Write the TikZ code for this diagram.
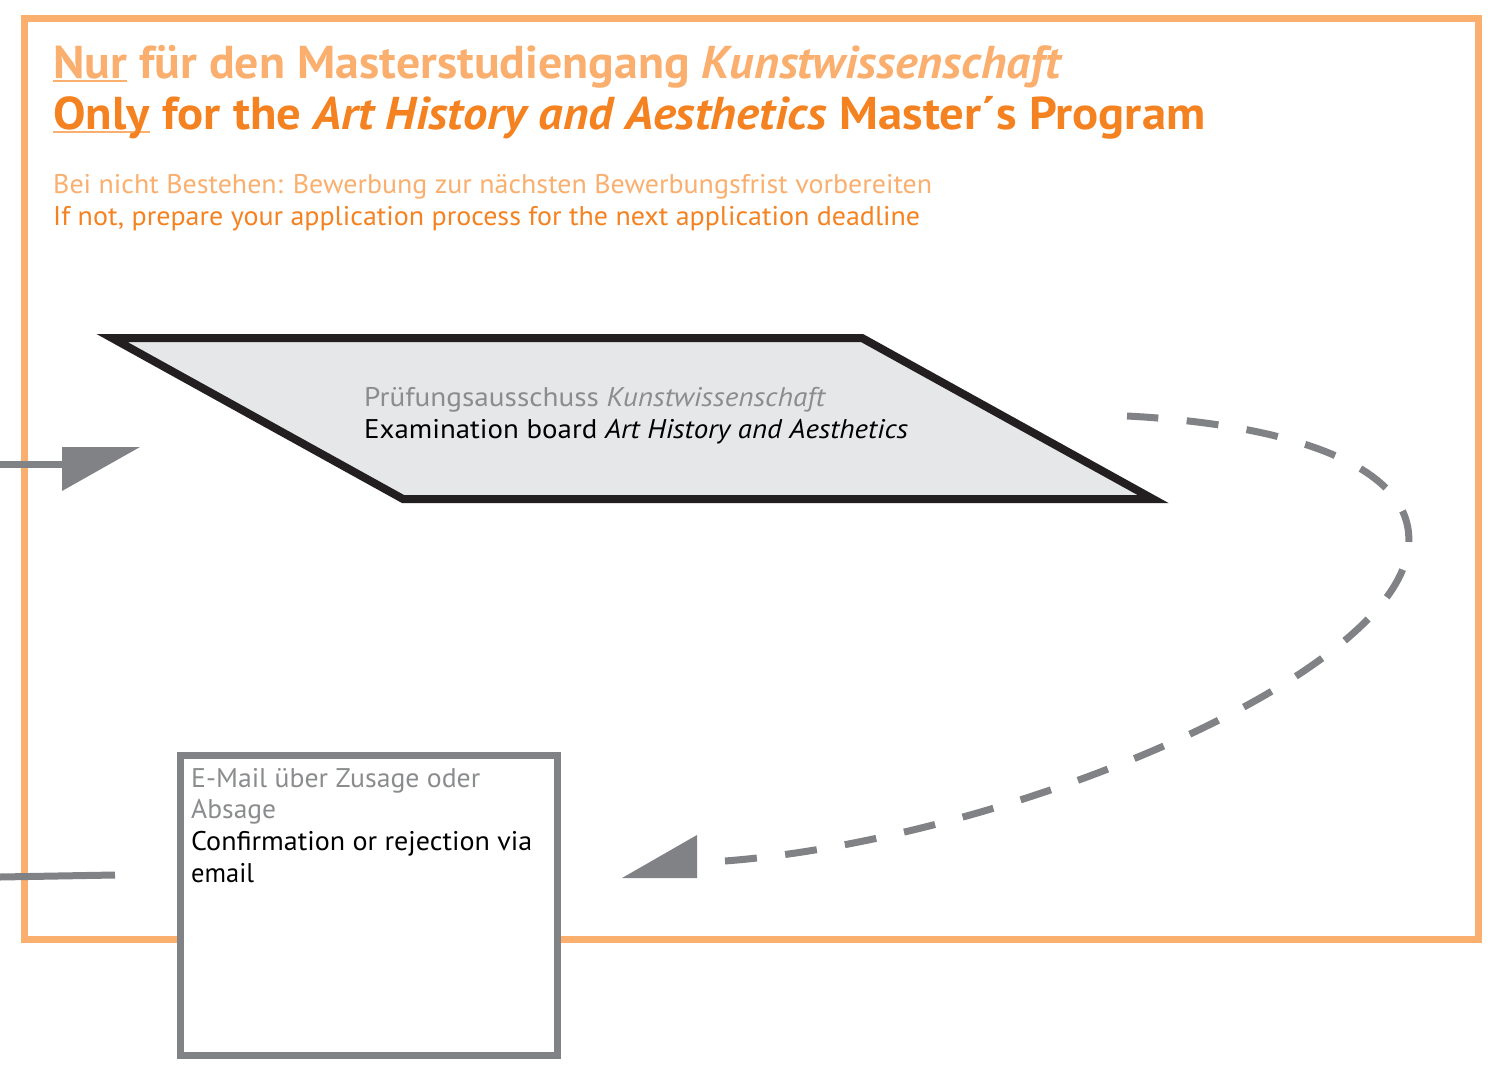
\documentclass[tikz,border=0pt]{standalone}
\usepackage{fontspec}
\usepackage{graphicx}
\setmainfont{PT Sans}
\definecolor{lightor}{HTML}{FAAF6E}
\definecolor{darkor}{HTML}{F58220}
\definecolor{midgray}{HTML}{808285}
\definecolor{txtgray}{HTML}{8A8C8E}
\definecolor{parafill}{HTML}{E6E7E8}
\definecolor{paraline}{HTML}{231F20}
\newcommand\fitline[2]{\resizebox{#1}{\height}{#2}}
\newcommand\myul[2]{\setbox0\hbox{#2}\rlap{\color{#1}\rule[-4pt]{\wd0}{1.6pt}}\box0\relax}
\tikzset{
  frame/.style={draw=lightor, line width=7pt},
  txt/.style={inner sep=0pt, anchor=base west},
  parabox/.style={draw=paraline, fill=parafill, line width=8pt, miter limit=10},
  emailbox/.style={draw=midgray, fill=white, line width=7pt, inner sep=0pt, outer sep=0pt, anchor=north west},
  conn/.style={draw=midgray, line width=7pt},
  dashconn/.style={draw=midgray, line width=7pt, dash pattern=on 32pt off 28.5pt},
  tip/.style={fill=midgray}
}
\begin{document}
\begin{tikzpicture}[x=1pt,y=-1pt]
\useasboundingbox (0,0) rectangle (1504,1068);
\fill[white] (0,0) rectangle (1504,1068);
% frame
\draw[frame] (24,18) rectangle (1478,939);
% titles
\node[txt, text=lightor, font=\fontsize{46}{50}\bfseries] (t1) at (53,78)
  {\fitline{1010pt}{\myul{lightor}{Nur} für den Masterstudiengang \textit{Kunstwissenschaft}}};
\node[txt, text=darkor, font=\fontsize{46}{50}\bfseries] (t2) at (53,129)
  {\fitline{1152pt}{\myul{lightor}{Only} for the \textit{Art History and Aesthetics} Master´s Program}};
\node[txt, text=lightor, font=\fontsize{27}{32}\selectfont] (s1) at (53,193)
  {\fitline{879pt}{Bei nicht Bestehen: Bewerbung zur nächsten Bewerbungsfrist vorbereiten}};
\node[txt, text=darkor, font=\fontsize{27}{32}\selectfont] (s2) at (53,225)
  {\fitline{867pt}{If not, prepare your application process for the next application deadline}};
% parallelogram
\coordinate (pA) at (112,338);
\coordinate (pB) at (862,338);
\coordinate (pC) at (1153,499);
\coordinate (pD) at (403,499);
\path[parabox] (pA) -- (pB) -- (pC) -- (pD) -- cycle;
\node[txt, text=txtgray, font=\fontsize{27}{32}\selectfont] (p1) at (364,406)
  {\fitline{462pt}{Prüfungsausschuss \textit{Kunstwissenschaft}}};
\node[txt, text=black, font=\fontsize{27}{32}\selectfont] (p2) at (364,438)
  {\fitline{544pt}{Examination board \textit{Art History and Aesthetics}}};
% email box
\node[emailbox, minimum width=377pt, minimum height=300pt] (email) at (180,755) {};
\node[txt, text=txtgray, font=\fontsize{27}{32}\selectfont] (e1) at (191,787)
  {\fitline{289pt}{E-Mail über Zusage oder}};
\node[txt, text=txtgray, font=\fontsize{27}{32}\selectfont] (e2) at (191,818)
  {\fitline{85pt}{Absage}};
\node[txt, text=black, font=\fontsize{27}{32}\selectfont] (e3) at (191,850)
  {\fitline{341pt}{Confirmation or rejection via}};
\node[txt, text=black, font=\fontsize{27}{32}\selectfont] (e4) at (191,882)
  {\fitline{63pt}{email}};
% left incoming arrow
\coordinate (inA) at (0,464);
\coordinate (inB) at (62,464);
\draw[conn] (inA) -- (inB);
\fill[tip] (62,447) -- (140,447) -- (62,491) -- cycle;
% lower left line
\coordinate (outA) at (0,877);
\coordinate (outB) at (115,875);
\draw[conn] (outA) -- (outB);
% dashed curve (drawn from the arrow end so that the dashes start there)
\coordinate (dS) at (1127,416);
\coordinate (dE) at (725,861);
\draw[dashconn] (dE) .. controls (1000,840) and (1390,680) .. (1408,550)
  .. controls (1420,470) and (1300,425) .. (dS);
\fill[tip] (697,835) -- (697,878) -- (622,878) -- cycle;
\end{tikzpicture}
\end{document}
